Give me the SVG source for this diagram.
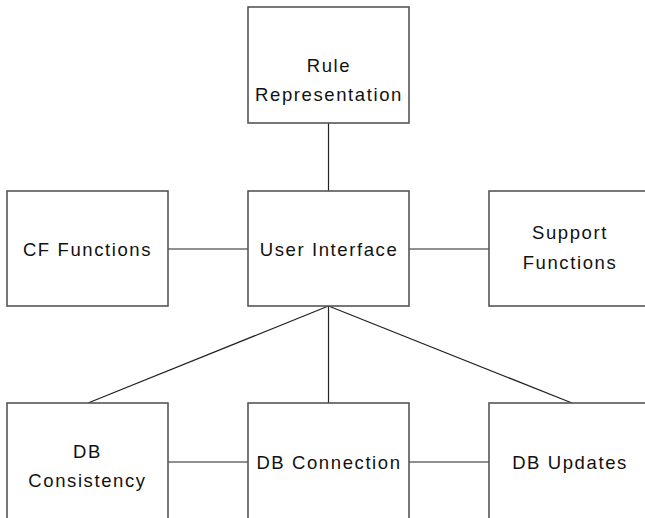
<svg xmlns="http://www.w3.org/2000/svg" width="645" height="518" viewBox="0 0 645 518">
<style>
.box{fill:#fff;stroke:#555;stroke-width:1.6}
.lbl{font-family:"Liberation Sans",Arial,sans-serif;font-size:18.5px;letter-spacing:1.6px;fill:#111;text-anchor:middle}
.conn{stroke:#222;stroke-width:1.2;fill:none}
</style>
<rect width="645" height="518" fill="#fff"/>
<g id="connectors">
<line class="conn" x1="328.5" y1="123" x2="328.5" y2="191"/>
<line class="conn" x1="168" y1="249" x2="248" y2="249"/>
<line class="conn" x1="409" y1="249" x2="489" y2="249"/>
<line class="conn" x1="328.5" y1="306" x2="88" y2="403"/>
<line class="conn" x1="328.5" y1="306" x2="328.5" y2="403"/>
<line class="conn" x1="328.5" y1="306" x2="572" y2="403"/>
<line class="conn" x1="168" y1="462" x2="248" y2="462"/>
<line class="conn" x1="409" y1="462" x2="489" y2="462"/>
</g>
<g id="rule-representation">
<rect class="box" x="248" y="7" width="161" height="116"/>
<text class="lbl" x="329" y="72">Rule</text>
<text class="lbl" x="329" y="101">Representation</text>
</g>
<g id="cf-functions">
<rect class="box" x="7" y="191" width="161" height="115"/>
<text class="lbl" x="87.5" y="256">CF Functions</text>
</g>
<g id="user-interface">
<rect class="box" x="248" y="191" width="161" height="115"/>
<text class="lbl" x="329" y="256">User Interface</text>
</g>
<g id="support-functions">
<rect class="box" x="489" y="191" width="170" height="115"/>
<text class="lbl" x="570" y="239">Support</text>
<text class="lbl" x="570" y="269">Functions</text>
</g>
<g id="db-consistency">
<rect class="box" x="7" y="403" width="161" height="130"/>
<text class="lbl" x="87.5" y="458">DB</text>
<text class="lbl" x="87.5" y="487">Consistency</text>
</g>
<g id="db-connection">
<rect class="box" x="248" y="403" width="161" height="130"/>
<text class="lbl" x="329" y="469">DB Connection</text>
</g>
<g id="db-updates">
<rect class="box" x="489" y="403" width="170" height="130"/>
<text class="lbl" x="570" y="469">DB Updates</text>
</g>
</svg>
